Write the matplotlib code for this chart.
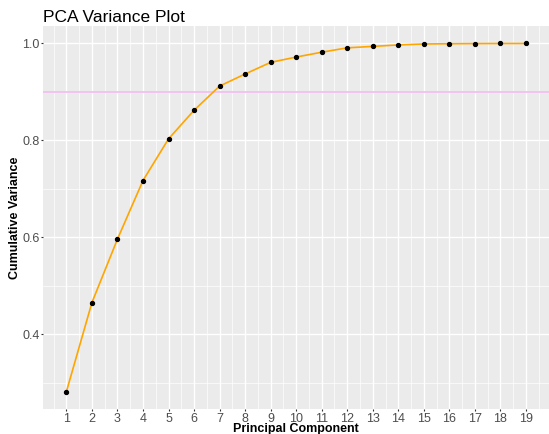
import matplotlib.pyplot as plt

plt.rcParams['font.family'] = ['Liberation Sans', 'DejaVu Sans']

components = list(range(1, 20))
cum_var = [0.281, 0.465, 0.596, 0.717, 0.803, 0.862, 0.912, 0.937, 0.961, 0.972,
           0.982, 0.991, 0.994, 0.997, 0.999, 0.9995, 0.9998, 1.0, 1.0]
threshold = 0.9

fig = plt.figure(figsize=(5.49, 4.34), dpi=100)
ax = fig.add_axes([0.079, 0.057, 0.921, 0.883])
ax.set_facecolor('#EBEBEB')

ax.axhline(threshold, color='#F0C0F0', lw=1.3, zorder=2)
ax.plot(components, cum_var, color='#FFA500', lw=1.2, zorder=3)
ax.scatter(components, cum_var, color='black', s=8, zorder=4)

ax.set_xlim(0.1, 19.9)
ax.set_ylim(0.245, 1.036)
ax.set_xticks(components)
ax.set_xticks([c + 0.5 for c in range(0, 20)], minor=True)
ax.set_yticks([0.4, 0.6, 0.8, 1.0])
ax.set_yticks([0.3, 0.5, 0.7, 0.9], minor=True)
ax.set_yticklabels(['0.4', '0.6', '0.8', '1.0'])

ax.grid(which='major', color='white', lw=1.0, zorder=0)
ax.grid(which='minor', color='white', lw=0.5, zorder=0)
ax.set_axisbelow(True)
for s in ax.spines.values():
    s.set_visible(False)
ax.tick_params(which='major', length=1.5, color='#333333', labelsize=9,
               labelcolor='#4D4D4D', pad=1)
ax.tick_params(which='minor', length=0)

ax.set_xlabel('Principal Component', fontsize=9, fontweight='bold', labelpad=-1)
ax.set_ylabel('Cumulative Variance', fontsize=9, fontweight='bold', labelpad=1)
ax.set_title('PCA Variance Plot', loc='left', fontsize=12.5, pad=3)

fig.savefig('out.png', dpi=100, facecolor='white')
